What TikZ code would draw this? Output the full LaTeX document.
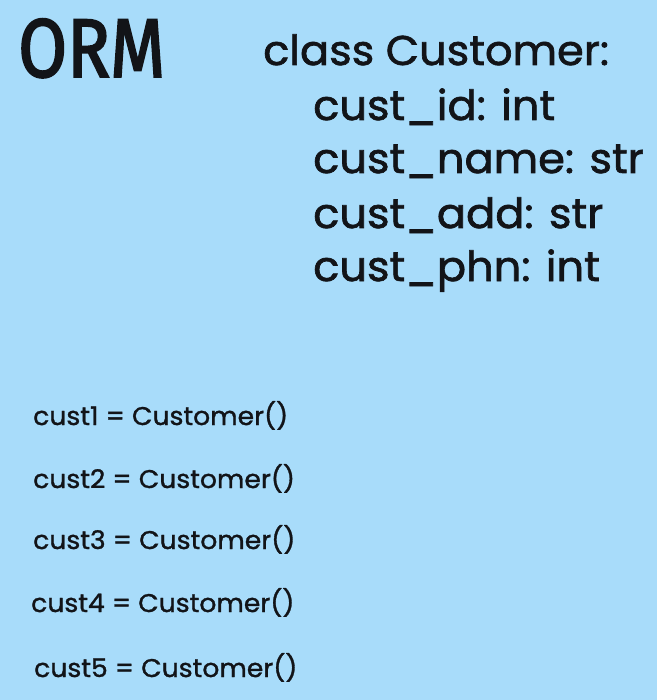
\documentclass[tikz,border=0pt]{standalone}
\usepackage{fontspec}
\usepackage{graphicx}
\setmainfont{Poppins}[FakeBold=1.2]
\newfontfamily\bigfont{Poppins}[FakeBold=1.6,FakeStretch=1.04]
\newfontfamily\smallfont{Poppins}[FakeBold=1.2,FakeStretch=1.04]
\newfontfamily\ormfont{Fira Sans}[FakeBold=2.5]
\definecolor{bgblue}{RGB}{168,220,250}
\definecolor{ink}{RGB}{18,20,24}
\begin{document}
\begin{tikzpicture}[x=1pt,y=-1pt,
  big/.style={inner sep=0pt,anchor=base west,text=ink,font=\bigfont\fontsize{41.5}{44}\selectfont},
  small/.style={inner sep=0pt,anchor=base west,text=ink,font=\smallfont\fontsize{25.6}{30}\selectfont}]
\fill[bgblue] (0,0) rectangle (657,700);
\useasboundingbox (0,0) rectangle (657,700);
\node[inner sep=0pt,anchor=south west,text=ink] (orm) at (18,78) {\resizebox{147pt}{58pt}{\ormfont ORM}};
\node[big] (cls) at (263,65) {class Customer:};
\node[big] (a1) at (313,120) {cust\_id: int};
\node[big] (a2) at (313,173) {cust\_name: str};
\node[big] (a3) at (313,228) {cust\_add: str};
\node[big] (a4) at (313,281) {cust\_phn: int};
\node[small] (c1) at (33,425) {cust1 = Customer()};
\node[small] (c2) at (33,488) {cust2 = Customer()};
\node[small] (c3) at (33,549) {cust3 = Customer()};
\node[small] (c4) at (31,612) {cust4 = Customer()};
\node[small] (c5) at (34,677) {cust5 = Customer()};
\end{tikzpicture}
\end{document}
